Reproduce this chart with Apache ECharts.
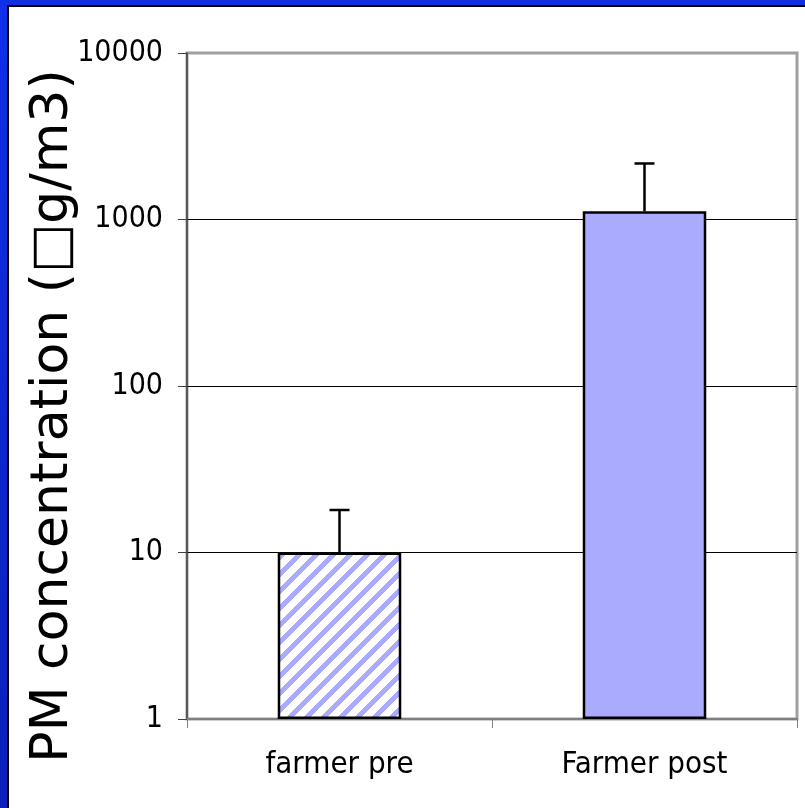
<!DOCTYPE html>
<html>
<head>
<meta charset="utf-8">
<script src="https://cdn.jsdelivr.net/npm/echarts@6/dist/echarts.min.js"></script>
<style>
html,body{margin:0;padding:0;background:#fff;}
#c{width:805px;height:808px;}
</style>
</head>
<body>
<div id="c"></div>
<script>
const categories = ['farmer pre', 'Farmer post'];
const means = [10, 1120];
const errorTops = [18, 2170];
const yTicks = [1, 10, 100, 1000, 10000];
const yAxisTitle = 'PM concentration (\u25A1g/m3)';

function hatch() {
  const s = 17, w = 7;
  const cv = document.createElement('canvas');
  cv.width = s; cv.height = s;
  const g = cv.getContext('2d');
  const img = g.createImageData(s, s);
  for (let y = 0; y < s; y++) {
    for (let x = 0; x < s; x++) {
      const on = ((x + y) % s) < w;
      const i = (y * s + x) * 4;
      img.data[i] = on ? 0xaa : 255;
      img.data[i + 1] = on ? 0xaa : 255;
      img.data[i + 2] = 255;
      img.data[i + 3] = 255;
    }
  }
  g.putImageData(img, 0, 0);
  return cv;
}
const hatchPattern = { image: hatch(), repeat: 'repeat' };

const chart = echarts.init(document.getElementById('c'), null, { renderer: 'canvas' });
const font = "'DejaVu Sans Condensed', 'DejaVu Sans'";

chart.setOption({
  backgroundColor: '#ffffff',
  animation: false,
  graphic: [
    { type: 'rect', left: 0, top: 0, shape: { width: 805, height: 5 }, style: { fill: '#1030e0' }, z: 100 },
    { type: 'rect', left: 0, top: 0, shape: { width: 7, height: 808 },
      style: { fill: new echarts.graphic.LinearGradient(0, 0, 0, 1, [{ offset: 0, color: '#1030e8' }, { offset: 1, color: '#0a20b8' }]) }, z: 100 },
    { type: 'rect', left: 7, top: 5, shape: { width: 798, height: 2 }, style: { fill: '#000' }, z: 100 },
    { type: 'rect', left: 7, top: 5, shape: { width: 2, height: 803 }, style: { fill: '#000' }, z: 100 },
    { type: 'text', x: 53, y: 416, rotation: Math.PI / 2,
      style: { text: yAxisTitle, fill: '#000', font: "52px 'DejaVu Sans'", textAlign: 'center', textVerticalAlign: 'middle' }, z: 100 }
  ],
  grid: {
    left: 187, top: 53, right: 8, bottom: 89,
    show: true, borderColor: '#a0a0a0', borderWidth: 3, backgroundColor: 'transparent'
  },
  xAxis: {
    type: 'category',
    data: categories,
    axisLine: { lineStyle: { color: '#808080', width: 2 } },
    axisTick: { show: true, length: 9, lineStyle: { color: '#808080', width: 1 } },
    axisLabel: { color: '#000', fontSize: 31, fontFamily: font, margin: 30 },
    splitLine: { show: false }
  },
  yAxis: {
    type: 'log',
    logBase: 10,
    min: yTicks[0],
    max: yTicks[yTicks.length - 1],
    axisLine: { show: true, lineStyle: { color: '#404040', width: 1.5 } },
    axisTick: { show: true, length: 9, lineStyle: { color: '#404040', width: 1 } },
    axisLabel: { color: '#000', fontSize: 30, fontFamily: font, margin: 24, formatter: v => String(v) },
    splitLine: { show: true, showMinLine: false, showMaxLine: false, lineStyle: { color: '#000', width: 1 } }
  },
  series: [
    {
      type: 'bar',
      barWidth: '40.5%',
      data: [
        { value: means[0], itemStyle: { color: hatchPattern } },
        { value: means[1], itemStyle: { color: '#aaaaff' } }
      ],
      itemStyle: { borderColor: '#000', borderWidth: 2.5 },
      z: 3
    },
    {
      type: 'custom',
      data: categories.map((c, i) => [i, means[i], errorTops[i]]),
      renderItem: function (params, api) {
        const base = api.coord([api.value(0), api.value(1)]);
        const top = api.coord([api.value(0), api.value(2)]);
        const hw = 10;
        return {
          type: 'group',
          children: [
            { type: 'line', shape: { x1: base[0], y1: base[1], x2: top[0], y2: top[1] }, style: { stroke: '#000', lineWidth: 2.5 } },
            { type: 'line', shape: { x1: top[0] - hw, y1: top[1], x2: top[0] + hw, y2: top[1] }, style: { stroke: '#000', lineWidth: 2.5 } }
          ]
        };
      },
      z: 4
    }
  ]
});
</script>
</body>
</html>
